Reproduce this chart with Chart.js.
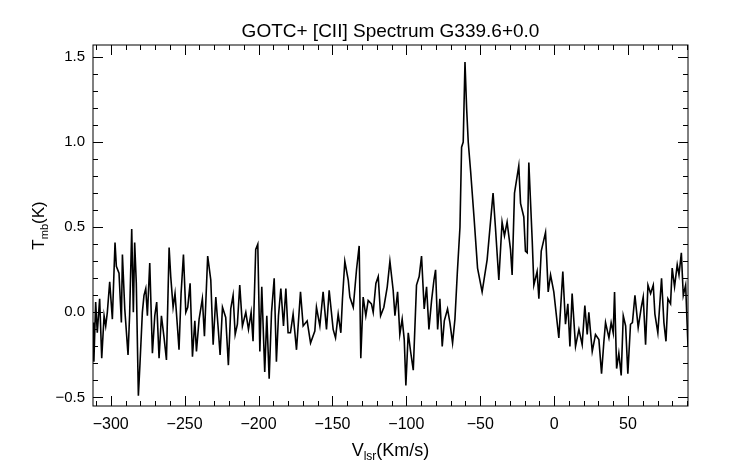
<!DOCTYPE html>
<html>
<head>
<meta charset="utf-8">
<script src="https://cdn.jsdelivr.net/npm/chart.js@4"></script>
<style>
  html, body { margin: 0; padding: 0; background: #fff; }
  #wrap { width: 742px; height: 464px; }
</style>
</head>
<body>
<div id="wrap"><canvas id="spec"></canvas></div>
<script>
// Spectrum samples (km/s, K)
const vel = [
  -312, -311.4, -310.2, -309.1, -307.5, -306.1, -304.5, -303.4, -302.3, -300.7, -298.9, -297.1, -296.2, -294.4,
  -292.8, -292.1, -290.5, -288.3, -287.2, -285.8, -284.7, -283.8, -282.7, -281.3, -280.2, -278.6, -277.5, -276.3,
  -275.2, -273.6, -271.8, -270.2, -268.9, -267.3, -265.7, -263.9, -262.3, -260.5, -259.4, -257.8, -256.5, -254.9,
  -253.8, -252.4, -250.8, -249.2, -247.9, -246.3, -244.7, -243.1, -242.0, -240.2, -238.0, -236.6, -234.4, -232.3,
  -230.7, -228.9, -227.4, -226.0, -224.4, -222.2, -220.4, -218.8, -217.2, -215.8, -214.3, -212.7, -210.9, -208.6,
  -206.8, -205.0, -203.7, -201.9, -200.5, -199.1, -197.8, -195.8, -194.4, -192.8, -191.2, -189.4, -187.9, -186.5,
  -184.9, -183.1, -181.5, -180.0, -178.4, -176.6, -174.3, -171.6, -169.8, -167.1, -164.8, -161.9, -160.8, -158.5,
  -156.3, -154.0, -152.2, -149.5, -147.9, -146.1, -144.3, -143.2, -141.6, -139.3, -138.2, -135.9, -133.7, -131.9,
  -130.8, -129.2, -127.4, -125.8, -123.6, -122.4, -120.6, -119.0, -117.4, -115.2, -112.9, -111.1, -108.9, -107.7,
  -105.9, -104.4, -102.8, -101.4, -100.3, -98.7, -97.1, -95.3, -93.1, -91.3, -89.7, -87.9, -86.3, -84.7, -82.9,
  -81.3, -80.2, -78.8, -77.3, -75.7, -74.3, -72.1, -70.5, -68.7, -67.1, -65.5, -63.7, -62.6, -61.5, -60.3, -59.2,
  -58.1, -56.5, -54.2, -51.8, -48.7, -45.3, -41.3, -39.7, -37.4, -35.2, -33.6, -31.8, -29.5, -28.4, -26.8, -23.9,
  -22.7, -20.5, -19.4, -18.2, -17.1, -14.8, -13.7, -11.5, -10.3, -8.7, -5.8, -4.0, -2.4, -0.2, 3.2, 5.9, 7.7, 9.3,
  10.7, 12.2, 14.5, 16.8, 19.0, 20.8, 22.4, 23.5, 25.8, 28.0, 30.3, 32.1, 33.7, 34.8, 37.1, 38.6, 40.0, 40.9, 42.3,
  43.8, 45.4, 46.8, 48.4, 49.9, 51.7, 53.0, 54.7, 56.9, 59.0, 60.3, 61.9, 63.5, 65.3, 67.1, 68.2, 70.2, 72.7, 74.3,
  75.7, 77.0, 78.8, 79.9, 81.5, 83.3, 84.5, 86.1, 87.4, 89.0, 90.6
];
const tmb = [
  -0.06, -0.29, 0.06, -0.12, 0.08, -0.27, -0.02, -0.08, 0.00, 0.18, -0.04, 0.41, 0.27, 0.23,
  -0.06, 0.34, 0.02, -0.25, -0.01, 0.49, 0.00, 0.41, 0.17, -0.49, -0.30, 0.00, 0.10, 0.14,
  -0.02, 0.29, -0.24, -0.02, 0.06, -0.27, -0.02, -0.15, -0.28, 0.38, 0.21, 0.03, 0.11, -0.08,
  -0.22, 0.11, 0.34, 0.00, 0.03, 0.17, -0.26, -0.05, -0.23, -0.04, 0.08, -0.14, 0.33, 0.19,
  -0.19, 0.09, -0.08, -0.25, 0.03, -0.03, -0.31, 0.02, 0.10, -0.13, -0.07, 0.16, -0.08, 0.00,
  -0.10, 0.00, -0.17, 0.37, 0.40, -0.23, 0.15, -0.35, -0.02, -0.39, 0.00, 0.20, -0.29, -0.02,
  0.14, -0.08, 0.14, -0.12, -0.12, -0.01, -0.22, 0.12, -0.08, -0.05, -0.18, -0.11, 0.03, -0.08,
  0.12, -0.10, 0.13, -0.10, -0.15, -0.01, -0.12, 0.08, 0.30, 0.19, 0.09, 0.03, 0.25, 0.39,
  -0.27, 0.09, -0.02, 0.07, 0.05, 0.00, 0.17, 0.21, -0.02, 0.03, 0.15, 0.30, 0.13, -0.02,
  0.12, -0.13, -0.04, -0.16, -0.43, -0.12, -0.23, -0.34, 0.16, 0.21, 0.33, 0.02, 0.15, -0.10, 0.07,
  0.19, 0.25, -0.10, 0.08, -0.20, -0.05, 0.02, -0.06, -0.18, -0.04, 0.23, 0.50, 0.97, 1.00, 1.47, 1.20,
  1.00, 0.83, 0.56, 0.26, 0.12, 0.31, 0.70, 0.50, 0.19, 0.53, 0.45, 0.53, 0.37, 0.22, 0.70, 0.86,
  0.64, 0.56, 0.36, 0.35, 0.88, 0.42, 0.16, 0.24, 0.08, 0.36, 0.47, 0.12, 0.22, 0.12, -0.15, 0.24, -0.07, 0.05,
  -0.20, 0.11, -0.20, -0.10, -0.19, 0.04, -0.13, 0.00, -0.23, -0.13, -0.16, -0.36, -0.17, -0.06, -0.15, -0.06, -0.12, 0.12, -0.33,
  -0.24, -0.37, -0.02, -0.08, -0.36, -0.07, -0.06, 0.10, -0.09, 0.03, 0.09, -0.19, 0.16, 0.11, 0.16, -0.01, -0.12, 0.20, -0.06,
  -0.17, 0.08, 0.05, 0.26, 0.15, 0.28, 0.22, 0.35, 0.10, 0.16, -0.20
];
const xTicks = [-300, -250, -200, -150, -100, -50, 0, 50];
const yTicks = [-0.5, 0.0, 0.5, 1.0, 1.5];

const points = vel.map((v, i) => ({ x: v, y: tmb[i] }));
const FONT = "'Liberation Sans', Arial, sans-serif";

// IDL-style frame: inward ticks on all four sides, titles with subscripts
const idlFrame = {
  id: "idlFrame",
  afterDraw(chart) {
    const { ctx, chartArea: a, scales } = chart;
    const xs = scales.x, ys = scales.y;
    ctx.save();
    ctx.strokeStyle = "#000";
    ctx.lineWidth = 1;
    ctx.strokeRect(a.left, a.top, a.right - a.left, a.bottom - a.top);
    ctx.beginPath();
    for (let v = -310; v <= 90; v += 10) {
      const px = Math.round(xs.getPixelForValue(v)) + 0.5;
      const len = v % 50 === 0 ? 10 : 5;
      ctx.moveTo(px, a.bottom); ctx.lineTo(px, a.bottom - len);
      ctx.moveTo(px, a.top); ctx.lineTo(px, a.top + len);
    }
    for (let k = -5; k <= 15; k++) {
      const py = Math.round(ys.getPixelForValue(k / 10)) + 0.5;
      const len = k % 5 === 0 ? 10 : 5;
      ctx.moveTo(a.left, py); ctx.lineTo(a.left + len, py);
      ctx.moveTo(a.right, py); ctx.lineTo(a.right - len, py);
    }
    ctx.stroke();

    ctx.fillStyle = "#000";
    ctx.textBaseline = "alphabetic";
    ctx.textAlign = "center";
    ctx.font = "19px " + FONT;
    ctx.fillText("GOTC+ [CII] Spectrum G339.6+0.0", (a.left + a.right) / 2, 37);

    const parts = (x0, y0, segs) => {
      let w = 0;
      segs.forEach(s => { ctx.font = s[1] + "px " + FONT; w += ctx.measureText(s[0]).width; });
      let x = x0 - w / 2;
      ctx.textAlign = "left";
      segs.forEach(s => {
        ctx.font = s[1] + "px " + FONT;
        ctx.fillText(s[0], x, y0 + s[2]);
        x += ctx.measureText(s[0]).width;
      });
    };
    parts((a.left + a.right) / 2, 456, [["V", 18, 0], ["lsr", 12, 4], ["(Km/s)", 18, 0]]);
    ctx.translate(44, (a.top + a.bottom) / 2);
    ctx.rotate(-Math.PI / 2);
    parts(0, 0, [["T", 17, 0], ["mb", 11, 4], ["(K)", 17, 0]]);
    ctx.restore();
  }
};

new Chart(document.getElementById("spec"), {
  type: "scatter",
  data: {
    datasets: [{
      data: points,
      showLine: true,
      borderColor: "#000",
      borderWidth: 1.6,
      pointRadius: 0,
      tension: 0
    }]
  },
  options: {
    responsive: true,
    maintainAspectRatio: false,
    animation: false,
    layout: { padding: { top: 45, right: 54, left: 0, bottom: 0 } },
    plugins: { legend: { display: false }, tooltip: { enabled: false } },
    scales: {
      x: {
        type: "linear",
        min: -312,
        max: 90.6,
        afterFit: s => { s.height = 58; },
        afterBuildTicks: s => { s.ticks = xTicks.map(v => ({ value: v })); },
        grid: { display: false, drawTicks: false },
        border: { display: false },
        ticks: {
          padding: 9,
          color: "#000",
          font: { family: FONT, size: 16 },
          callback: v => (v < 0 ? "\u2212" + Math.abs(v) : String(v))
        }
      },
      y: {
        type: "linear",
        min: -0.55,
        max: 1.57,
        afterFit: s => { s.width = 93; },
        afterBuildTicks: s => { s.ticks = yTicks.map(v => ({ value: v })); },
        grid: { display: false, drawTicks: false },
        border: { display: false },
        ticks: {
          padding: 8,
          color: "#000",
          font: { family: FONT, size: 15 },
          callback: v => (v < 0 ? "\u2212" + Math.abs(v).toFixed(1) : v.toFixed(1))
        }
      }
    }
  },
  plugins: [idlFrame]
});
</script>
</body>
</html>
